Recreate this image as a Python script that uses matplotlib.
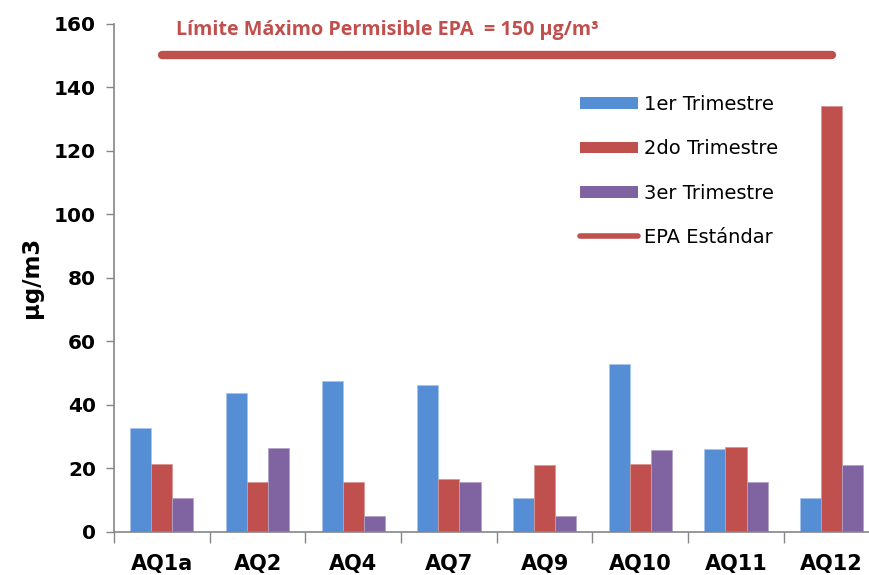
import numpy as np
from matplotlib import pyplot as plt
from matplotlib.lines import Line2D
from matplotlib.patches import Patch

plt.rcParams['font.family'] = ['DejaVu Sans']

# data
sites = ['AQ1a', 'AQ2', 'AQ4', 'AQ7', 'AQ9', 'AQ10', 'AQ11', 'AQ12']
trim1 = [32.8, 43.6, 47.6, 46.3, 10.5, 52.9, 26.2, 10.5]
trim2 = [21.4, 15.7, 15.7, 16.6, 21.0, 21.4, 26.6, 134.0]
trim3 = [10.5, 26.3, 4.8, 15.7, 4.8, 25.8, 15.7, 21.0]
epa_limit = 150
yticks = [0, 20, 40, 60, 80, 100, 120, 140, 160]

blue = '#558ed5'
red = '#c0504d'
purple = '#8064a2'
grey = '#868686'

fig = plt.figure(figsize=(8.7, 5.75), dpi=100)
# axes runs past the right edge like the cropped original
ax = fig.add_axes([0.131, 0.0753, 0.880, 0.8835])

x = np.arange(len(sites))
w = 0.22
ax.bar(x - w, trim1, w, color=blue, edgecolor='#a9c4eb', linewidth=0.6, label='1er Trimestre')
ax.bar(x, trim2, w, color=red, edgecolor='#d99694', linewidth=0.6, label='2do Trimestre')
ax.bar(x + w, trim3, w, color=purple, edgecolor='#b3a2c7', linewidth=0.6, label='3er Trimestre')

# EPA standard line
ax.plot([x[0], x[-1]], [epa_limit, epa_limit], color=red, linewidth=6,
        solid_capstyle='round', label='EPA Estándar')
ax.text(0.15, 158, 'Límite Máximo Permisible EPA  = 150 µg/m³', color=red,
        fontsize=14.2, fontweight='bold', family='Open Sans', va='center')

ax.set_xlim(-0.5, len(sites) - 0.5)
ax.set_ylim(0, 160)
ax.set_yticks(yticks)
ax.set_yticklabels([str(t) for t in yticks], fontsize=14.5, fontweight='bold')
ax.set_xticks(x)
ax.set_xticklabels(sites, fontsize=15, fontweight='bold')
ax.set_xticks(np.arange(-0.5, len(sites) + 0.5, 1), minor=True)
ax.tick_params(axis='x', which='major', length=0, pad=16)
ax.tick_params(axis='x', which='minor', length=8, color=grey, width=1)
ax.tick_params(axis='y', length=6, color=grey, width=1, pad=7)

for s in ['top', 'right']:
    ax.spines[s].set_visible(False)
for s in ['left', 'bottom']:
    ax.spines[s].set_color(grey)
    ax.spines[s].set_linewidth(1.2)

ax.set_ylabel('µg/m3', fontsize=16.5, fontweight='bold', labelpad=8)

handles = [Patch(facecolor=blue), Patch(facecolor=red), Patch(facecolor=purple),
           Line2D([0], [0], color=red, linewidth=4, solid_capstyle='round')]
labels = ['1er Trimestre', '2do Trimestre', '3er Trimestre', 'EPA Estándar']
ax.legend(handles, labels, loc='upper left', bbox_to_anchor=(580 / 870, 1 - 95 / 575),
          bbox_transform=fig.transFigure, frameon=False, fontsize=14,
          handlelength=3.0, handleheight=0.55, handletextpad=0.3,
          labelspacing=1.3, borderpad=0, borderaxespad=0)

plt.savefig('out.png', dpi=100)
